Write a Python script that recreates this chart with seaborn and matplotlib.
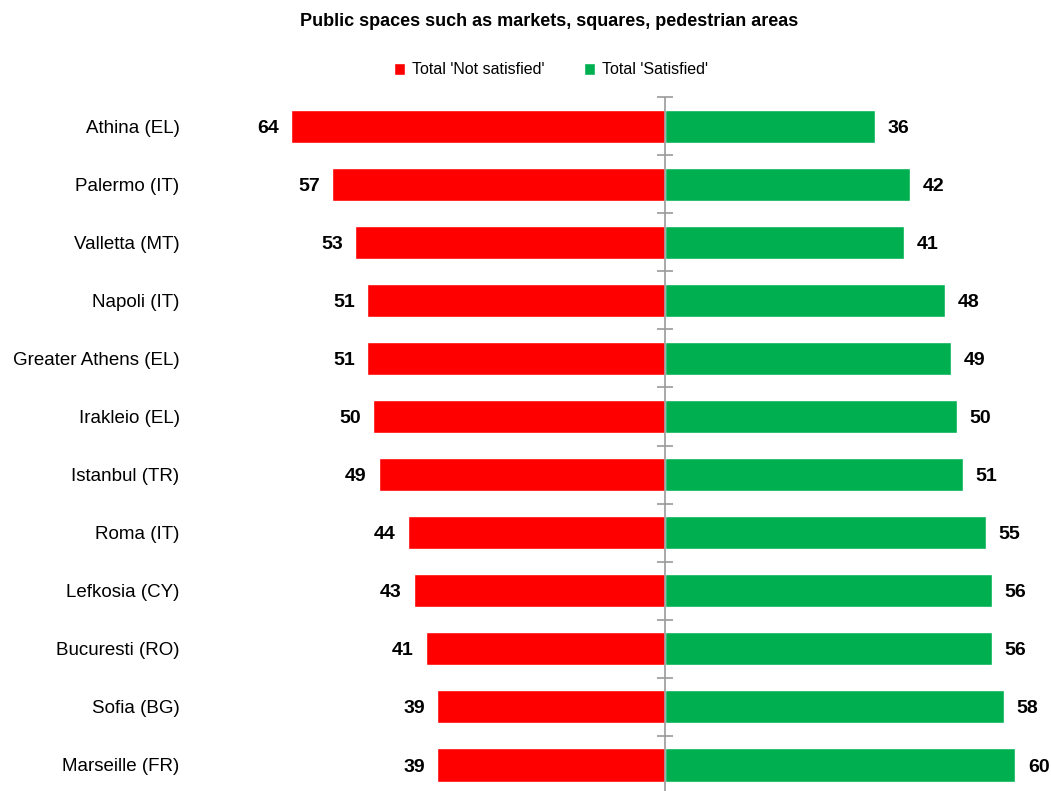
import pandas as pd
import seaborn as sns
import matplotlib.pyplot as plt
from matplotlib.patches import Patch

# Data
cities = ["Athina (EL)", "Palermo (IT)", "Valletta (MT)", "Napoli (IT)",
          "Greater Athens (EL)", "Irakleio (EL)", "Istanbul (TR)", "Roma (IT)",
          "Lefkosia (CY)", "Bucuresti (RO)", "Sofia (BG)", "Marseille (FR)"]
not_satisfied = [64, 57, 53, 51, 51, 50, 49, 44, 43, 41, 39, 39]
satisfied = [36, 42, 41, 48, 49, 50, 51, 55, 56, 56, 58, 60]
series = ["Total 'Not satisfied'", "Total 'Satisfied'"]
colors = ["#FF0000", "#00B050"]

# long format, not satisfied drawn to the left
df = pd.concat([
    pd.DataFrame({"city": cities, "value": [-v for v in not_satisfied], "series": series[0]}),
    pd.DataFrame({"city": cities, "value": satisfied, "series": series[1]}),
])

sns.set_theme(style="white")
plt.rcParams["font.family"] = ["Liberation Sans", "DejaVu Sans"]
plt.rcParams["text.color"] = "black"

fig = plt.figure(figsize=(10.51, 7.91), dpi=100)
ax = fig.add_axes([190 / 1051, -0.0038, 861 / 1051, 0.881])

sns.barplot(data=df, x="value", y="city", hue="series", orient="h",
            dodge=False, width=0.57, palette=colors, legend=False,
            saturation=1, ax=ax)

# value labels at the bar ends
for cont, vals, sign in zip(ax.containers, [not_satisfied, satisfied], [-1, 1]):
    for bar, v in zip(cont, vals):
        y = bar.get_y() + bar.get_height() / 2
        ax.annotate(str(v), (sign * v, y), xytext=(sign * 9, -1.5),
                    textcoords="offset points", va="center",
                    ha="right" if sign < 0 else "left",
                    fontsize=14, fontweight="bold", color="black")

ax.set_xlim(-81.34, 66.1)
ax.set_ylim(11.5, -0.5)
ax.set_xlabel("")
ax.set_ylabel("")
ax.set_xticks([])
ax.tick_params(axis="y", length=0, pad=7.5, labelsize=13.5, labelcolor="black")
for s in ax.spines.values():
    s.set_visible(False)

# centre axis with category ticks
ax.axvline(0, color="#9A9A9A", lw=1.2, zorder=3)
ax.hlines([i - 0.5 for i in range(len(cities))], -1.3, 1.3,
          color="#9A9A9A", lw=1.2, zorder=3, clip_on=False)

fig.text(549 / 1051, 1 - 22 / 791, "Public spaces such as markets, squares, pedestrian areas",
         ha="center", va="center", fontsize=13, fontweight="bold", color="black")

handles = [Patch(facecolor=c, label=l) for c, l in zip(colors, series)]
fig.legend(handles=handles, loc="center", bbox_to_anchor=(551 / 1051, 1 - 70 / 791),
           ncol=2, frameon=False, fontsize=11.5, handlelength=0.7, handleheight=0.7,
           handletextpad=0.4, columnspacing=2.5, labelcolor="black")

fig.savefig("out.png", dpi=100)
